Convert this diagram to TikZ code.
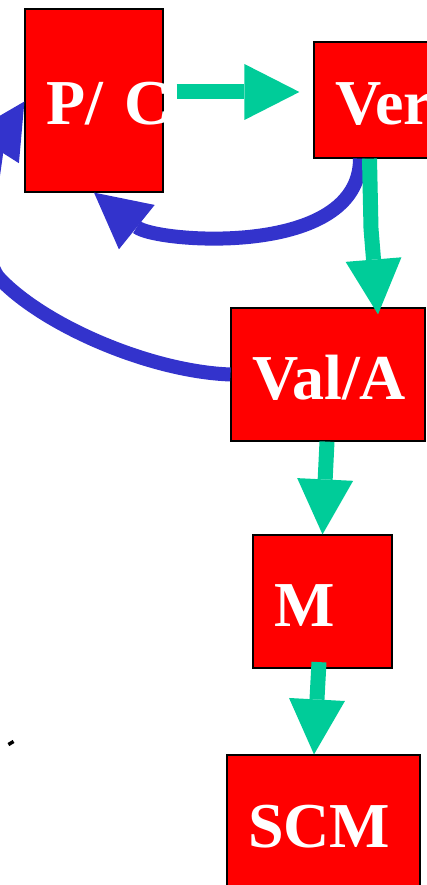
\documentclass[tikz,border=0pt]{standalone}
\usepackage{fontspec}
\setmainfont{Liberation Serif}
\usetikzlibrary{arrows.meta}

\definecolor{boxred}{RGB}{255,0,0}
\definecolor{fwdgreen}{RGB}{0,204,153}
\definecolor{backblue}{RGB}{51,51,204}

\begin{document}
\begin{tikzpicture}[
    x=1pt,y=-1pt,
    stagebox/.style={
      draw=black,fill=boxred,line width=1.2pt,
      text=white,font=\fontsize{64}{70}\selectfont\bfseries,
      align=left,inner xsep=21pt,inner ysep=0pt,
      text height=49pt,text depth=0pt
    },
    fwd/.style={
      draw=fwdgreen,line width=15pt,
      -{Triangle[length=55pt,width=56pt,line width=0pt]}
    },
    back/.style={
      draw=backblue,line width=14pt,
      -{Triangle[length=55pt,width=57pt,line width=0pt]}
    }]

  \useasboundingbox (0,0) rectangle (427,885);

  % stages
  \node[stagebox,text width=96pt,minimum height=183pt] (pc) at (94,100.5) {P/~C};
  \node[stagebox,text width=108pt,minimum height=116pt] (ver) at (389,100) {Ver};
  \node[stagebox,text width=152pt,minimum height=133pt] (val) at (328,374.5) {Val/A};
  \node[stagebox,text width=97pt,minimum height=133pt] (m) at (322.5,601.5) {M};
  \node[stagebox,text width=151pt,minimum height=135pt] (scm) at (323.5,822.5) {SCM};

  \node[fill=black,rotate=31,minimum width=6pt,minimum height=3.5pt,inner sep=0pt] (dot) at (11,743) {};

  % feedback loops
  \coordinate (farleft) at (0,279);
  \draw[back] ([xshift=-29pt]ver.south) .. controls +(0,100) and +(62,50) .. (pc.south);
  \draw[back] (val.west) .. controls +(-80,-3) and +(45,47) .. (farleft)
    .. controls +(-28,-28) and +(-21,33) .. ([yshift=-1pt]pc.west);

  % main flow
  \draw[fwd] ([xshift=13pt,yshift=8.5pt]pc.east) -- ([xshift=-14pt,yshift=8pt]ver.west);
  \draw[fwd] ([xshift=-19.5pt]ver.south) -- ++(1.5,70) -- ([xshift=50pt,yshift=-7pt]val.north);
  \draw[fwd] ([xshift=-1pt]val.south) -- (m.north);
  \draw[fwd] ([xshift=-3.5pt,yshift=6.5pt]m.south) -- ([xshift=-9.5pt]scm.north);
\end{tikzpicture}
\end{document}
